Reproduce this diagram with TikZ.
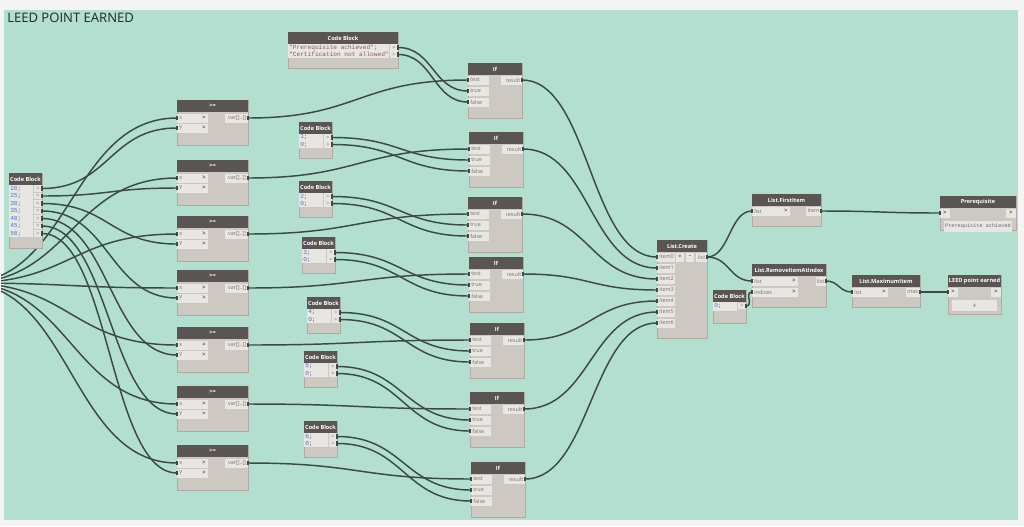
\documentclass[tikz,border=0pt]{standalone}
\usepackage{fontspec}
\setmainfont{Open Sans}
\setmonofont{Liberation Mono}
\usetikzlibrary{calc}
\definecolor{bgc}{HTML}{F4F4F4}
\definecolor{panelc}{HTML}{B2DFCF}
\definecolor{hdc}{HTML}{5A5552}
\definecolor{bodyc}{HTML}{CDC8C1}
\definecolor{bodyd}{HTML}{B0AAA3}
\definecolor{portc}{HTML}{E8E6E2}
\definecolor{wirec}{HTML}{3C4A45}
\definecolor{numc}{HTML}{4A78C0}
\definecolor{strc}{HTML}{8A5B4E}
\definecolor{lblc}{HTML}{76716C}
\pgfdeclarelayer{bottom}
\pgfdeclarelayer{wires}
\pgfsetlayers{bottom,wires,main}
\tikzset{
  dbody/.style={fill=bodyc, draw=bodyd, line width=0.4pt, inner sep=0pt, outer sep=0pt},
  htext/.style={font=\fontsize{4.2}{5}\selectfont\bfseries, text=white, inner sep=0pt},
  ptext/.style={font=\fontsize{4.1}{5}\selectfont, text=lblc, inner sep=0pt},
  chev/.style={font=\fontsize{4.4}{5}\selectfont\bfseries, text=hdc, inner sep=0pt},
  ctext/.style={font=\ttfamily\fontsize{4.6}{5.6}\selectfont, text=black!60, inner sep=0pt, anchor=west},
  wtext/.style={font=\ttfamily\fontsize{3.9}{5}\selectfont, text=black!60, inner sep=0pt},
  title/.style={font=\fontsize{9.8}{11}\selectfont, text=black!85, inner sep=0pt},
  nub/.style={fill=wirec},
  wire/.style={draw=wirec, line width=1.1pt,
    to path={let \p1=(\tikztostart), \p2=(\tikztotarget),
      \n1={max(0.5*(\x2-\x1),6pt)} in
      .. controls ($(\p1)+(\n1,0pt)$) and ($(\p2)-(\n1,0pt)$) .. (\p2) \tikztonodes}},
}
% node box: name, x, y, w, h, title
\newcommand\dbox[6]{%
  \node[dbody, anchor=north west, minimum width={#4*0.75pt}, minimum height={#5*0.75pt}] (#1) at (#2,#3) {};
  \fill[hdc] (#2,#3) rectangle ++(#4,12);
  \node[htext] at (#2+#4/2,#3+6) {#6};
}
% input port with chevron: node, port, x, y, width, label
\newcommand\inport[6]{%
  \fill[portc] (#3,#4-4.5) rectangle ++(#5,9);
  \node[ptext,anchor=west] at (#3+2,#4) {#6};
  \node[chev,anchor=east] at (#3+#5-2,#4) {>};
  \coordinate (#1-#2) at (#3,#4);
}
% input port without chevron
\newcommand\inportn[6]{%
  \fill[portc] (#3,#4-4.5) rectangle ++(#5,9);
  \node[ptext,anchor=west] at (#3+2,#4) {#6};
  \coordinate (#1-#2) at (#3,#4);
}
% output port: node, port, xright, y, width, label
\newcommand\outport[6]{%
  \fill[portc] (#3-#5,#4-4.5) rectangle (#3,#4+4.5);
  \node[ptext,anchor=east] at (#3-1.5,#4) {#6};
  \coordinate (#1-#2) at (#3,#4);
}
% code block output port: node, port, xright, y
\newcommand\cbport[4]{%
  \fill[portc] (#3-8,#4-3.4) rectangle (#3,#4+3.4);
  \node[ptext] at (#3-4,#4) {>};
  \coordinate (#1-#2) at (#3,#4);
}
% wire from port to port, with small port nubs
\newcommand\wire[2]{%
  \begin{pgfonlayer}{wires}\draw[wire] (#1) to (#2);\end{pgfonlayer}
  \fill[nub] ($(#1)+(-0.8,-2.2)$) rectangle ++(1.6,4.4);
  \fill[nub] ($(#2)+(-0.8,-2.2)$) rectangle ++(1.6,4.4);
}
\begin{document}
\begin{tikzpicture}[x=0.75pt,y=-0.75pt]
\useasboundingbox (0,0) rectangle (1024,526);
\begin{pgfonlayer}{bottom}
  \fill[bgc] (0,0) rectangle (1024,526);
  \fill[panelc] (4,10) rectangle (1018,520);
\end{pgfonlayer}
\node[title, anchor=west] (ttl) at (7,18) {LEED POINT EARNED};

% left code block
\dbox{cbL}{9}{173}{33}{75}{Code Block}
\fill[portc] (9,185) rectangle (33,237);
\foreach \v [count=\i from 0] in {20,25,30,35,40,45,50}{
  \node[ctext] at (10,188.5+7.5*\i) {\textcolor{numc}{\v};};
  \cbport{cbL}{\i}{42}{188.5+7.5*\i}
}

% >= nodes
\foreach \k/\T in {1/100,2/160,3/216,4/270,5/327,6/386,7/445}{
  \dbox{ge\k}{177}{\T}{71}{45}{>=}
  \inport{ge\k}{x}{177}{\T+18}{31}{x}
  \inport{ge\k}{y}{177}{\T+28}{31}{y}
  \outport{ge\k}{out}{248}{\T+18}{23}{var[]..[]}
}

% If nodes
\foreach \k/\X/\T in {1/468/63,2/469/132,3/468/197,4/469/257,5/470/323,6/470/392,7/471/462}{
  \dbox{if\k}{\X}{\T}{54}{55}{If}
  \inportn{if\k}{test}{\X}{\T+17}{21}{test}
  \inportn{if\k}{true}{\X}{\T+28}{21}{true}
  \inportn{if\k}{false}{\X}{\T+39}{21}{false}
  \outport{if\k}{out}{\X+54}{\T+17}{21}{result}
}

% small code blocks
\foreach \k/\X/\T in {1/299/122,2/299/181,3/302/237,4/307/297,5/304/351,6/304/421}{
  \dbox{cb\k}{\X}{\T}{33}{36}{Code Block}
  \fill[portc] (\X,\T+12) rectangle (\X+24,\T+26);
  \node[ctext] at (\X+1,\T+15.5) {\textcolor{numc}{\k};};
  \node[ctext] at (\X+1,\T+22.5) {\textcolor{numc}{0};};
  \cbport{cb\k}{a}{\X+33}{\T+15.5}
  \cbport{cb\k}{b}{\X+33}{\T+22.5}
}

% string code block
\dbox{cbS}{288}{32}{110}{36}{Code Block}
\fill[portc] (288,44) rectangle (389,58);
\node[ctext] at (289,47.5) {\textcolor{strc}{"Prerequisite achieved"};};
\node[ctext] at (289,54.5) {\textcolor{strc}{"Certification not allowed"};};
\cbport{cbS}{a}{398}{47.5}
\cbport{cbS}{b}{398}{54.5}

% List.Create
\dbox{lc}{657}{240}{50}{98}{List.Create}
\foreach \i in {0,...,6}{\inportn{lc}{\i}{657}{257+11*\i}{18}{item\i}}
\fill[portc] (676,252.5) rectangle (684,261.5);
\node[chev] at (680,257) {+};
\fill[portc] (686,252.5) rectangle (694,261.5);
\node[chev] at (690,257) {-};
\outport{lc}{out}{707}{257}{11}{list}

% List.FirstItem
\dbox{fi}{752}{194}{69}{32}{List.FirstItem}
\inport{fi}{list}{752}{211}{38}{list}
\outport{fi}{out}{821}{211}{15}{item}

% List.RemoveItemAtIndex
\dbox{ri}{752}{264}{74}{43}{List.RemoveItemAtIndex}
\inport{ri}{list}{752}{281}{46}{list}
\inport{ri}{idx}{752}{292}{46}{indices}
\outport{ri}{out}{826}{281}{10}{list}

% code block 0;
\dbox{cbz}{713}{290}{33}{33}{Code Block}
\fill[portc] (713,302) rectangle (737,311);
\node[ctext] at (714,306) {\textcolor{numc}{0};};
\cbport{cbz}{a}{746}{306}

% List.MaximumItem
\dbox{mx}{852}{275}{68}{32}{List.MaximumItem}
\inport{mx}{list}{852}{292}{36}{list}
\outport{mx}{out}{920}{292}{14}{max}

% Watch: Prerequisite
\dbox{pre}{940}{196}{76}{34}{Prerequisite}
\fill[portc] (940,208.5) rectangle (950,217.5);
\node[chev] at (945,213) {>};
\fill[portc] (1006,208.5) rectangle (1016,217.5);
\node[chev] at (1011,213) {>};
\coordinate (pre-in) at (940,213);
\fill[portc] (944,221) rectangle (1012,232);
\node[wtext] at (978,226.5) {Prerequisite achieved};

% Watch: LEED point earned
\dbox{leed}{948}{275}{53}{39}{LEED point earned}
\fill[portc] (948,287.5) rectangle (958,296.5);
\node[chev] at (953,292) {>};
\fill[portc] (991,287.5) rectangle (1001,296.5);
\node[chev] at (996,292) {>};
\coordinate (leed-in) at (948,292);
\fill[portc] (952,300) rectangle (997,311);
\node[wtext] at (974.5,305.5) {4};

% wires from the off-screen source
\coordinate (src) at (-35,283);
\begin{pgfonlayer}{wires}
\begin{scope}
\clip (1,10) rectangle (1018,520);
\foreach \k in {1,...,7}{\draw[wire] (src) to (ge\k-x);}
\end{scope}
\end{pgfonlayer}
\foreach \k in {1,...,7}{\fill[nub] ($(ge\k-x)+(-0.8,-2.2)$) rectangle ++(1.6,4.4);}

% other wires
\foreach \k [evaluate=\k as \j using int(\k-1)] in {1,...,7}{\wire{cbL-\j}{ge\k-y}}
\foreach \k in {1,...,7}{\wire{ge\k-out}{if\k-test}}
\wire{cbS-a}{if1-true}
\wire{cbS-b}{if1-false}
\foreach \k [evaluate=\k as \j using int(\k+1)] in {1,...,6}{
  \wire{cb\k-a}{if\j-true}
  \wire{cb\k-b}{if\j-false}
}
\foreach \k [evaluate=\k as \j using int(\k-1)] in {1,...,7}{\wire{if\k-out}{lc-\j}}
\wire{lc-out}{fi-list}
\wire{lc-out}{ri-list}
\wire{cbz-a}{ri-idx}
\wire{ri-out}{mx-list}
\wire{mx-out}{leed-in}
\wire{fi-out}{pre-in}
\end{tikzpicture}
\end{document}
